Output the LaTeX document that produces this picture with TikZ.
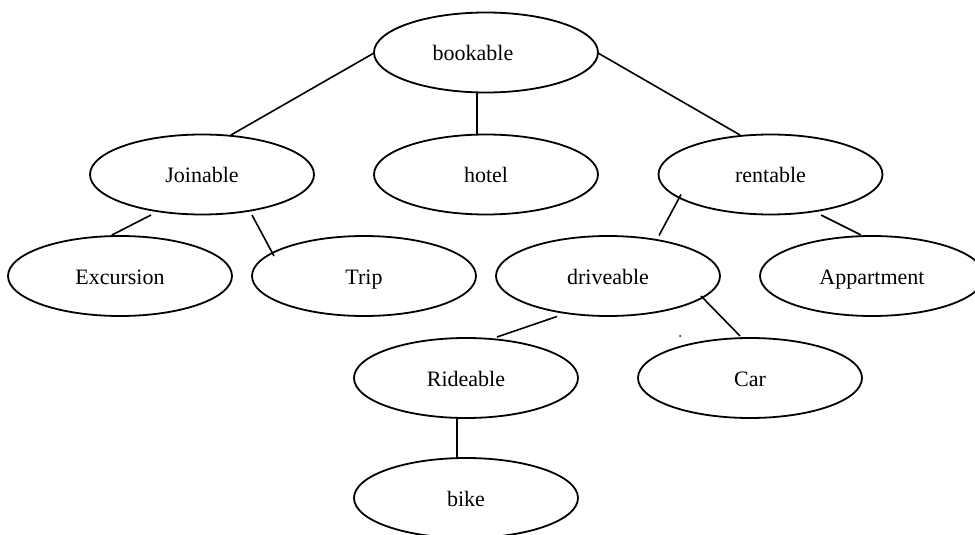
\documentclass[tikz,border=0pt]{standalone}
\usepackage{fontspec}
\setmainfont{Liberation Serif}
\usetikzlibrary{shapes.geometric}
\begin{document}
\begin{tikzpicture}[x=1pt,y=-1pt,
  ell/.style={draw, ellipse, line width=1.8pt, minimum width=224pt, minimum height=80pt, inner sep=0pt, text height=16pt, text depth=0pt, font=\fontsize{22}{24}\selectfont},
  conn/.style={line width=1.6pt}]
\useasboundingbox (0,0) rectangle (975,535);
\node[ell] (bookable) at (486,52.5) {bookable\hspace*{26pt}};
\node[ell] (joinable) at (202,174.5) {Joinable};
\node[ell] (hotel) at (486,174.5) {hotel};
\node[ell] (rentable) at (770.5,174.5) {rentable};
\node[ell] (excursion) at (120,276) {Excursion};
\node[ell] (trip) at (364,276) {Trip};
\node[ell] (driveable) at (608,276) {driveable};
\node[ell] (appartment) at (872,276) {Appartment};
\node[ell] (rideable) at (466,378) {Rideable};
\node[ell] (car) at (750,378) {Car};
\node[ell] (bike) at (466,498) {bike};
\node[circle, fill, inner sep=0pt, minimum size=2pt] (dot) at (680,336) {};
\draw[conn] ([shift={(-112,0.5)}]bookable.center) -- ([shift={(29,-39.5)}]joinable.center);
\draw[conn] ([shift={(-9,40.5)}]bookable.center) -- ([shift={(-9,-39.5)}]hotel.center);
\draw[conn] ([shift={(112,0.5)}]bookable.center) -- ([shift={(-30.5,-39.5)}]rentable.center);
\draw[conn] ([shift={(-51,40.5)}]joinable.center) -- ([shift={(-8,-41)}]excursion.center);
\draw[conn] ([shift={(50,40.5)}]joinable.center) -- ([shift={(-90,-20)}]trip.center);
\draw[conn] ([shift={(-89.5,20)}]rentable.center) -- ([shift={(51,-40.5)}]driveable.center);
\draw[conn] ([shift={(50.5,40.5)}]rentable.center) -- ([shift={(-11,-41)}]appartment.center);
\draw[conn] ([shift={(-51,40.5)}]driveable.center) -- ([shift={(31,-41)}]rideable.center);
\draw[conn] ([shift={(93,20)}]driveable.center) -- ([shift={(-10,-42)}]car.center);
\draw[conn] ([shift={(-9,40)}]rideable.center) -- ([shift={(-9,-39.5)}]bike.center);
\end{tikzpicture}
\end{document}
